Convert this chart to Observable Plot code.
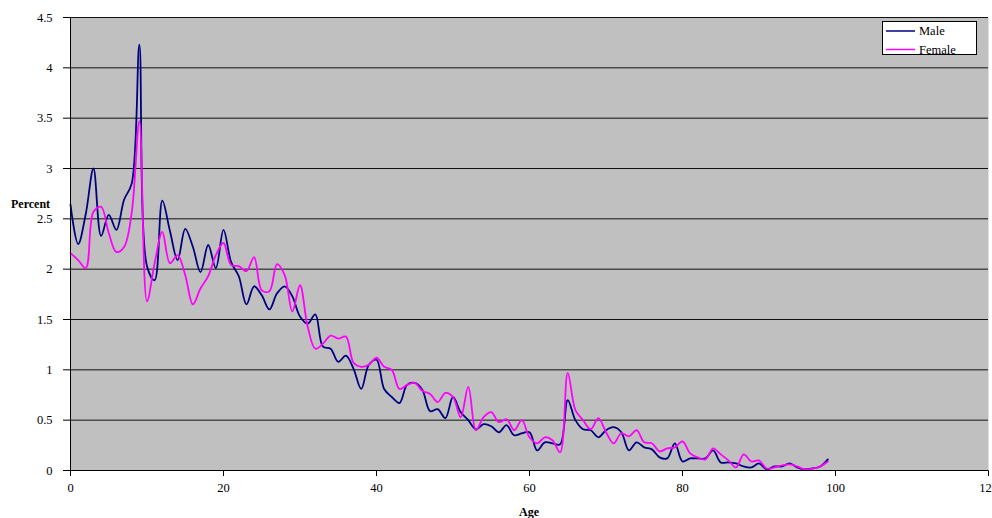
<!DOCTYPE html>
<html><head><meta charset="utf-8">
<script src="https://cdn.jsdelivr.net/npm/d3@7"></script>
<script src="https://cdn.jsdelivr.net/npm/@observablehq/plot@0.6"></script>
<style>body{margin:0;background:#fff;overflow:hidden} #chart{width:992px;height:518px}</style>
</head><body><div id="chart"></div>
<script>
const ages = d3.range(0, 100);
const male = [2.64,2.25,2.55,3.00,2.33,2.54,2.39,2.69,2.85,4.23,
  2.03,1.89,2.68,2.38,2.09,2.40,2.22,1.97,2.24,2.01,
  2.39,2.07,1.93,1.65,1.83,1.74,1.60,1.76,1.83,1.73,
  1.53,1.46,1.55,1.23,1.21,1.08,1.14,1.01,0.81,1.05,
  1.10,0.81,0.73,0.67,0.85,0.87,0.80,0.59,0.61,0.52,
  0.73,0.58,0.50,0.41,0.46,0.44,0.38,0.45,0.35,0.37,
  0.38,0.20,0.28,0.27,0.26,0.70,0.50,0.41,0.40,0.33,
  0.40,0.43,0.38,0.20,0.28,0.23,0.21,0.13,0.12,0.27,
  0.09,0.12,0.12,0.12,0.20,0.08,0.08,0.07,0.04,0.03,
  0.07,0.01,0.04,0.04,0.07,0.03,0.01,0.02,0.04,0.11];
const female = [2.16,2.09,2.01,2.57,2.62,2.36,2.17,2.22,2.56,3.47,
  1.68,2.06,2.37,2.06,2.14,1.94,1.65,1.81,1.93,2.14,
  2.26,2.04,2.03,1.98,2.12,1.79,1.78,2.05,1.94,1.58,
  1.84,1.43,1.21,1.26,1.34,1.31,1.33,1.07,1.03,1.05,
  1.12,1.03,1.00,0.81,0.85,0.87,0.79,0.76,0.68,0.77,
  0.73,0.53,0.83,0.40,0.53,0.58,0.48,0.51,0.40,0.50,
  0.33,0.27,0.33,0.30,0.18,0.97,0.60,0.50,0.41,0.52,
  0.38,0.27,0.37,0.34,0.40,0.28,0.27,0.19,0.22,0.23,
  0.29,0.17,0.13,0.11,0.22,0.16,0.10,0.03,0.16,0.09,
  0.10,0.02,0.03,0.05,0.06,0.04,0.01,0.02,0.04,0.09];
const seriesNames = ["Male", "Female"];
const seriesColors = ["#000080", "#FF00FF"];
const yTicks = [0, 0.5, 1, 1.5, 2, 2.5, 3, 3.5, 4, 4.5];
const xTicks = [0, 20, 40, 60, 80, 100, 120];

const data = ages.flatMap((a, i) => [
  {age: a, pct: male[i], sex: seriesNames[0]},
  {age: a, pct: female[i], sex: seriesNames[1]}
]);

const plot = Plot.plot({
  width: 992, height: 518,
  marginLeft: 70, marginRight: 4, marginTop: 17, marginBottom: 48,
  style: {fontFamily: "'Liberation Serif', 'Times New Roman', serif", fontSize: "12.5px", background: "white", overflow: "visible"},
  x: {domain: [0, 120], ticks: xTicks, tickSize: 6, tickPadding: 7, label: null},
  y: {domain: [0, 4.5], ticks: yTicks, tickSize: 7, tickPadding: 11, label: null, tickFormat: d => String(d)},
  color: {domain: seriesNames, range: seriesColors},
  marks: [
    Plot.frame({fill: "#C0C0C0", stroke: null}),
    Plot.ruleY(yTicks.slice(1), {stroke: "#111", strokeWidth: 1}),
    Plot.line(data, {x: "age", y: "pct", z: "sex", stroke: "sex", strokeWidth: 1.8, curve: "catmull-rom"}),
    Plot.ruleX([0], {stroke: "#000"}),
    Plot.ruleY([0], {stroke: "#000"})
  ]
});
document.getElementById("chart").appendChild(plot);

const svg = d3.select(plot);
svg.append("text").attr("x", 11).attr("y", 208).attr("text-anchor", "start").attr("font-weight", "bold").attr("font-size", "12px").attr("fill", "#000").text("Percent");
svg.append("text").attr("x", 529).attr("y", 516).attr("text-anchor", "middle").attr("font-weight", "bold").attr("font-size", "12px").attr("fill", "#000").text("Age");
const lg = svg.append("g");
lg.append("rect").attr("x", 882.5).attr("y", 21.5).attr("width", 94).attr("height", 33).attr("fill", "white").attr("stroke", "#000");
seriesNames.forEach((n, i) => {
  const y = 31 + i * 18.5;
  lg.append("line").attr("x1", 886).attr("x2", 915).attr("y1", y).attr("y2", y).attr("stroke", seriesColors[i]).attr("stroke-width", 1.5);
  lg.append("text").attr("x", 919).attr("y", y + 4).attr("text-anchor", "start").attr("font-size", "12.5px").attr("fill", "#000").text(n);
});
</script>
</body></html>
